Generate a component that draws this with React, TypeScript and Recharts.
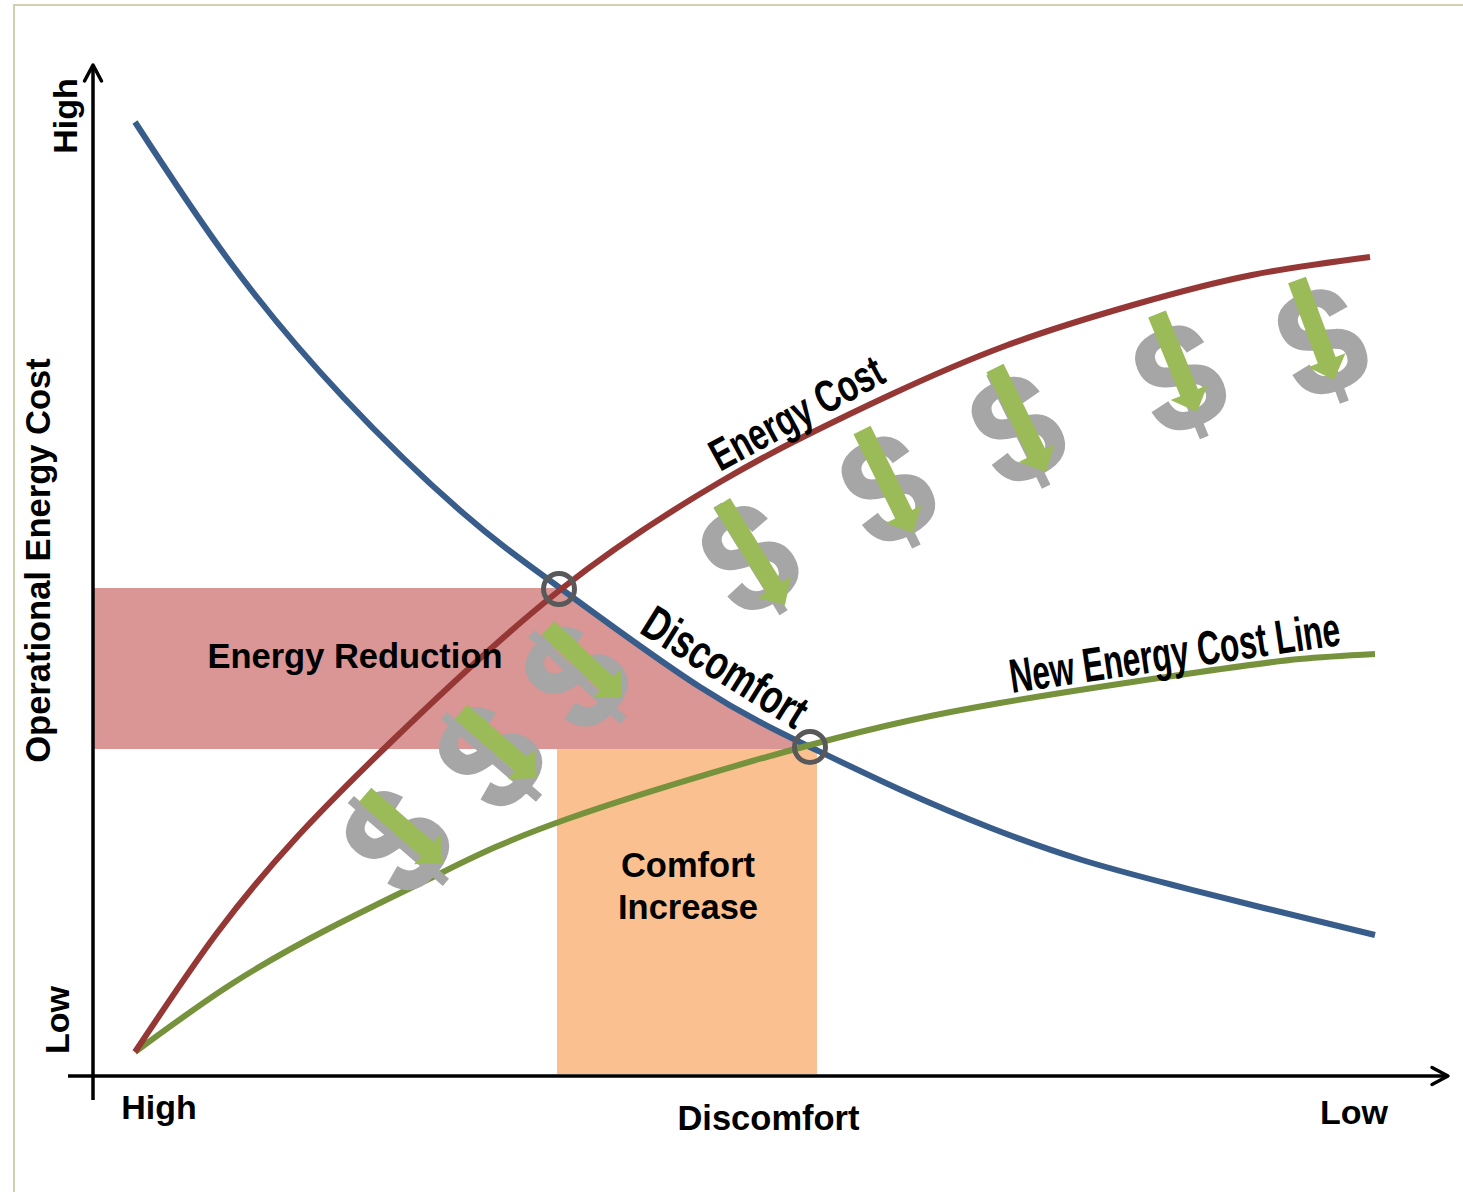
import {
  Area,
  ComposedChart,
  Line,
  ReferenceArea,
  ReferenceDot,
  ReferenceLine,
  Scatter,
  XAxis,
  YAxis,
} from "recharts";

// discomfort runs left (high) to right (low); cost runs bottom (low) to top (high)
const discomfortX = [42, 137, 250, 370, 467, 607, 717, 808, 898, 989, 1080, 1171, 1282];
const discomfortY = [954, 814, 679, 563, 488, 389, 329, 286, 248, 216, 191, 168, 141];

const energyCostX = [42, 124, 204, 300, 467, 627, 714, 797, 912, 1040, 1159, 1277];
const energyCostY = [24, 143, 239, 336, 486, 594, 641, 681, 730, 771, 801, 819];

const newCostX = [42, 137, 237, 344, 477, 717, 907, 1107, 1207, 1282];
const newCostY = [24, 91, 148, 201, 258, 331, 373, 404, 417, 422];

// energy reduction band, capped by the first crossing and closed by the discomfort curve
const reductionX = [0, 465, 507, 540, 607, 674, 717];
const reductionTop = [488, 488, 458, 433, 389, 353, 329];
const reductionFloor = 327;

const dollarX = [305, 398, 484, 657, 795, 925, 1087, 1229];
const dollarY = [235, 319, 399, 517, 586, 646, 697, 733];

const arrowFromX = [272, 368, 455, 629, 769, 902, 1064, 1204];
const arrowFromY = [281, 364, 448, 573, 646, 708, 762, 796];
const arrowToX = [350, 444, 529, 692, 820, 953, 1104, 1241];
const arrowToY = [213, 298, 378, 471, 543, 604, 664, 696];

const xTickValues = [66, 1261];
const xTickLabels = ["High", "Low"];
const yTickValues = [56, 960];
const yTickLabels = ["Low", "High"];

const toPoints = (xs: number[], ys: number[]) => xs.map((x, i) => ({ x, y: ys[i] }));

const discomfortLine = toPoints(discomfortX, discomfortY);
const energyCostLine = toPoints(energyCostX, energyCostY);
const newCostLine = toPoints(newCostX, newCostY);
const reductionBand = reductionX.map((x, i) => ({ x, y: [reductionFloor, reductionTop[i]] }));
const dollars = dollarX.map((x, i) => ({
  x,
  y: dollarY[i],
  dx: arrowToX[i] - arrowFromX[i],
  dy: arrowFromY[i] - arrowToY[i],
}));
const arrows = arrowFromX.map((x, i) => ({
  x,
  y: arrowFromY[i],
  toX: arrowToX[i],
  toY: arrowToY[i],
}));

const FONT = "'Liberation Sans', Arial, sans-serif";

// the axes run 1:1 with the plot, so data deltas can be used directly as lengths;
// each dollar leans along the arrow that crosses it
function DollarShape({ cx, cy, payload }: any) {
  const lean = -(Math.atan2(payload.dx, payload.dy) * 180) / Math.PI;
  return (
    <text
      transform={`translate(${cx},${cy}) rotate(${lean}) scale(0.94,1)`}
      y={51}
      textAnchor="middle"
      fontFamily={FONT}
      fontWeight={700}
      fontSize={152}
      fill="#a6a6a6"
      stroke="#a6a6a6"
      strokeWidth={2}
    >
      $
    </text>
  );
}

function ArrowShape({ cx, cy, payload }: any) {
  const dx = payload.toX - payload.x;
  const dy = payload.y - payload.toY;
  const len = Math.hypot(dx, dy);
  const angle = (Math.atan2(dy, dx) * 180) / Math.PI;
  return (
    <polygon
      transform={`translate(${cx},${cy}) rotate(${angle})`}
      points={`0,-9.5 ${len - 21},-9.5 ${len - 21},-20 ${len},0 ${len - 21},20 ${len - 21},9.5 0,9.5`}
      fill="#9bbb59"
    />
  );
}

const XTick = ({ x, y, payload, index }: any) => (
  <text
    x={x}
    y={y + (payload.value === xTickValues[0] ? 35 : 40)}
    textAnchor="middle"
    fontFamily={FONT}
    fontWeight={700}
    fontSize={34}
    fill="#000"
  >
    {xTickLabels[index]}
  </text>
);

const YTick = ({ y, payload, index }: any) => {
  const tx = payload.value === yTickValues[1] ? 77 : 69;
  return (
    <text
      transform={`translate(${tx},${y}) rotate(-90)`}
      textAnchor="middle"
      fontFamily={FONT}
      fontWeight={700}
      fontSize={34}
      fill="#000"
    >
      {yTickLabels[index]}
    </text>
  );
};

// plain centred annotation
function areaNote(text: string, x: number, y: number) {
  return (
    <ReferenceDot
      key={text}
      x={x}
      y={y}
      r={0}
      shape={({ cx, cy }: any) => (
        <text x={cx} y={cy} textAnchor="middle" fontFamily={FONT} fontWeight={700} fontSize={34.5} fill="#000">
          {text}
        </text>
      )}
    />
  );
}

// condensed label laid along a curve, starts at x,y
function curveNote(text: string, x: number, y: number, rotate: number, size: number, squeeze: number) {
  return (
    <ReferenceDot
      key={text}
      x={x}
      y={y}
      r={0}
      shape={({ cx, cy }: any) => (
        <text
          transform={`translate(${cx},${cy}) rotate(${rotate}) scale(${squeeze},1)`}
          fontFamily={FONT}
          fontWeight={700}
          fontSize={size}
          fill="#000"
        >
          {text}
        </text>
      )}
    />
  );
}

export default function App() {
  return (
    <div style={{ position: "absolute", left: 0, top: 0, width: 1463, height: 1192, overflow: "hidden", background: "#fff" }}>
      <div
        style={{
          position: "absolute",
          left: 13,
          top: 4,
          width: 1460,
          height: 1200,
          borderLeft: "2px solid #d3d0ae",
          borderTop: "2px solid #d3d0ae",
        }}
      />
      <ComposedChart
        width={1463}
        height={1192}
        margin={{ top: 65, right: 15, bottom: 0, left: 0 }}
        style={{ position: "absolute", left: 0, top: 0 }}
      >
        <defs>
          <marker id="arrowHead" markerUnits="userSpaceOnUse" markerWidth="30" markerHeight="30" refX="20" refY="15" orient="auto-start-reverse" overflow="visible">
            <path d="M4,6.5 L20,15 L4,23.5" fill="none" stroke="#000" strokeWidth="3.5" strokeLinecap="round" strokeLinejoin="round" />
          </marker>
        </defs>
        <XAxis
          type="number"
          dataKey="x"
          domain={[0, 1355]}
          ticks={xTickValues}
          height={116}
          tickLine={false}
          tick={<XTick />}
          axisLine={{ stroke: "#000", strokeWidth: 3.5, markerEnd: "url(#arrowHead)" }}
          label={{
            value: "Discomfort",
            position: "insideBottom",
            offset: 62,
            dx: -2,
            fontFamily: FONT,
            fontWeight: 700,
            fontSize: 34.5,
            fill: "#000",
          }}
        />
        <YAxis
          type="number"
          dataKey="y"
          domain={[0, 1011]}
          ticks={yTickValues}
          width={93}
          tickLine={false}
          tick={<YTick />}
          axisLine={{ stroke: "#000", strokeWidth: 3.5, markerStart: "url(#arrowHead)" }}
          label={{
            value: "Operational Energy Cost",
            angle: -90,
            position: "insideLeft",
            offset: 38,
            dy: -10,
            textAnchor: "middle",
            fontFamily: FONT,
            fontWeight: 700,
            fontSize: 34.5,
            fill: "#000",
          }}
        />

        <ReferenceLine ifOverflow="visible" segment={[{ x: -25, y: 0 }, { x: 0, y: 0 }]} stroke="#000" strokeWidth={3.5} />
        <ReferenceLine ifOverflow="visible" segment={[{ x: 0, y: -24 }, { x: 0, y: 0 }]} stroke="#000" strokeWidth={3.5} />

        <Area data={reductionBand} dataKey="y" type="linear" fill="#d99694" fillOpacity={1} stroke="none" isAnimationActive={false} />
        <ReferenceArea x1={464} x2={724} y1={2} y2={327} fill="#fac090" fillOpacity={1} stroke="none" />

        <Scatter data={dollars} dataKey="y" shape={<DollarShape />} isAnimationActive={false} />
        <Scatter data={arrows} dataKey="y" shape={<ArrowShape />} isAnimationActive={false} />

        <Line data={discomfortLine} dataKey="y" type="natural" stroke="#385d8a" strokeWidth={6} dot={false} isAnimationActive={false} />
        <Line data={newCostLine} dataKey="y" type="natural" stroke="#76923c" strokeWidth={6} dot={false} isAnimationActive={false} />
        <Line data={energyCostLine} dataKey="y" type="natural" stroke="#953735" strokeWidth={6} dot={false} isAnimationActive={false} />

        <ReferenceDot x={466} y={487} r={15.5} fill="none" stroke="#595959" strokeWidth={5} />
        <ReferenceDot x={717} y={329} r={15.5} fill="none" stroke="#595959" strokeWidth={5} />

        {areaNote("Energy Reduction", 262, 408)}
        {areaNote("Comfort", 595, 199)}
        {areaNote("Increase", 595, 157)}
        {curveNote("Energy Cost", 627, 604, -28.5, 45, 0.72)}
        {curveNote("Discomfort", 545, 444, 32, 48, 0.73)}
        {curveNote("New Energy Cost Line", 919, 383, -8.3, 48, 0.658)}
      </ComposedChart>
    </div>
  );
}
